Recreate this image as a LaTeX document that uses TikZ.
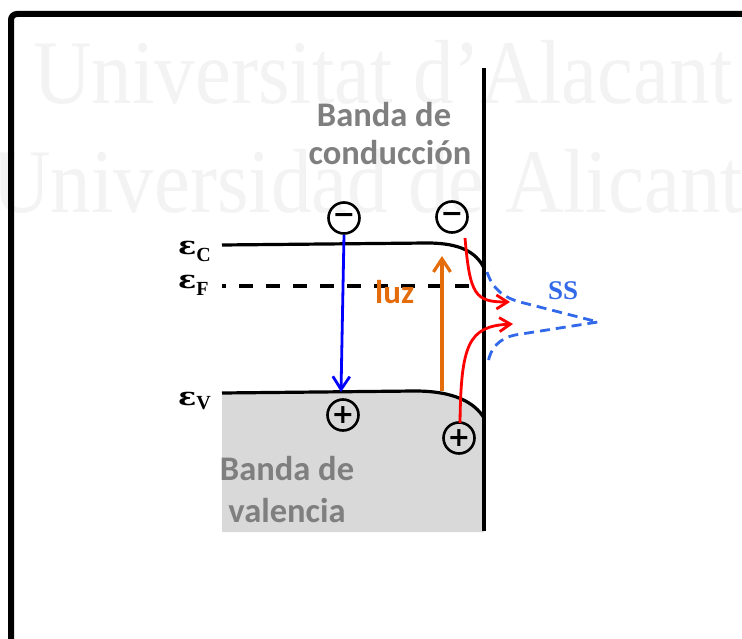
\documentclass[tikz,border=0pt]{standalone}
\usepackage{fontspec}
\newfontfamily\calib{Carlito}
\newfontfamily\wmfont{Liberation Serif}
\newfontfamily\djv{DejaVu Sans}
\newfontfamily\djserif{DejaVu Serif}
\usetikzlibrary{arrows.meta}
\definecolor{wm}{RGB}{243,243,243}
\definecolor{bandgray}{RGB}{217,217,217}
\definecolor{txtgray}{RGB}{127,127,127}
\definecolor{luzorange}{RGB}{228,108,10}
\definecolor{ssblue}{RGB}{50,105,235}
\definecolor{arrblue}{RGB}{0,0,255}
\definecolor{arrred}{RGB}{255,0,0}
\newcommand{\epslabel}[2]{{\djserif\bfseries\fontsize{25}{26}\selectfont\scalebox{1.2}[1]{ε}}\raisebox{-#2}{\wmfont\bfseries\fontsize{20}{20}\selectfont #1}}
\begin{document}
\begin{tikzpicture}[x=1pt,y=-1pt,
  bandline/.style={line width=3.2pt, black},
  lbl/.style={font=\calib\bfseries\fontsize{34.5}{40}\selectfont, text=txtgray, inner sep=0pt, anchor=base},
  carrier/.style={circle, draw, line width=2.6pt, minimum size=31pt, inner sep=0pt, font=\djv\bfseries\fontsize{27}{27}\selectfont},
  tipv/.style={-{Straight Barb[length=13pt,width=17pt]}},
  tipr/.style={-{Straight Barb[length=11pt,width=14pt]}},
  eps/.style={inner sep=0pt, anchor=base west},
  wmark/.style={font=\wmfont\fontsize{91}{95}\selectfont, text=wm, inner sep=0pt, anchor=base west, xscale=0.89}
]
\clip (0,0) rectangle (742,639);
\fill[white] (0,0) rectangle (742,639);
% watermark
\node[wmark] (wm1) at (33,104) {Universitat d’Alacant};
\node[wmark] (wm2) at (-8,213) {Universidad de Alicante};
% frame
\draw[line width=6pt, rounded corners=6pt] (11,700) -- (11,14) -- (760,14);
% valence band fill
\fill[bandgray] (222,393) -- (415,391) .. controls (455,391) and (475,403) .. (484,418) -- (484,532) -- (222,532) -- cycle;
% band lines
\draw[bandline] (222,245) -- (427,243) .. controls (460,243) and (476,252) .. (484,268);
\draw[bandline] (222,393) -- (415,391) .. controls (455,391) and (475,403) .. (484,418);
\draw[line width=3.2pt, dash pattern=on 14pt off 13pt, dash phase=10pt] (222,286) -- (478,286);
% surface
\draw[line width=4pt] (484,68) -- (484,531);
% labels
\node[eps] (epsC) at (178,255) {\epslabel{C}{6pt}};
\node[eps] (epsF) at (178,288) {\epslabel{F}{7pt}};
\node[eps] (epsV) at (178,405) {\epslabel{V}{4pt}};
\node[lbl] (cb1) at (384,127) {Banda de};
\node[lbl] (cb2) at (390,165) {conducción};
\node[lbl] (vb1) at (287,480) {Banda de};
\node[lbl] (vb2) at (287,522) {valencia};
\node[lbl, text=luzorange, anchor=base west, font=\calib\bfseries\fontsize{33}{40}\selectfont] (luz) at (375,303) {luz};
\node[font=\wmfont\bfseries\fontsize{27}{28}\selectfont, text=ssblue, inner sep=0pt, anchor=base west] (ss) at (548,300) {SS};
% carriers
\node[carrier] (e1) at (344,218) {−};
\node[carrier] (e2) at (452,217) {−};
\node[carrier] (h1) at (343,415) {+};
\node[carrier] (h2) at (459,438) {+};
% coordinates
\coordinate (blueEnd) at (341,392);
\coordinate (luzStart) at (442,391);
\coordinate (luzEnd) at (442,256);
\coordinate (r1s) at (465,238);
\coordinate (r1e) at (510,302);
\coordinate (r2s) at (460,423);
\coordinate (r2e) at (513,324);
% arrows
\draw[arrblue, line width=2.8pt, tipv] (e1.south) -- (blueEnd);
\draw[luzorange, line width=3.2pt, tipv] (luzStart) -- (luzEnd);
\draw[arrred, line width=2.8pt, tipr] (r1s) .. controls (470,295) and (475,302) .. (r1e);
\draw[arrred, line width=2.8pt, tipr] (r2s) .. controls (461,345) and (468,326) .. (r2e);
% surface states
\draw[ssblue, line width=2.8pt, dash pattern=on 10pt off 6pt, line join=round]
  (487,272) .. controls (493,290) and (505,298) .. (520,302) -- (598,322) -- (515,335)
  .. controls (500,338) and (490,348) .. (488,363);
\end{tikzpicture}
\end{document}
